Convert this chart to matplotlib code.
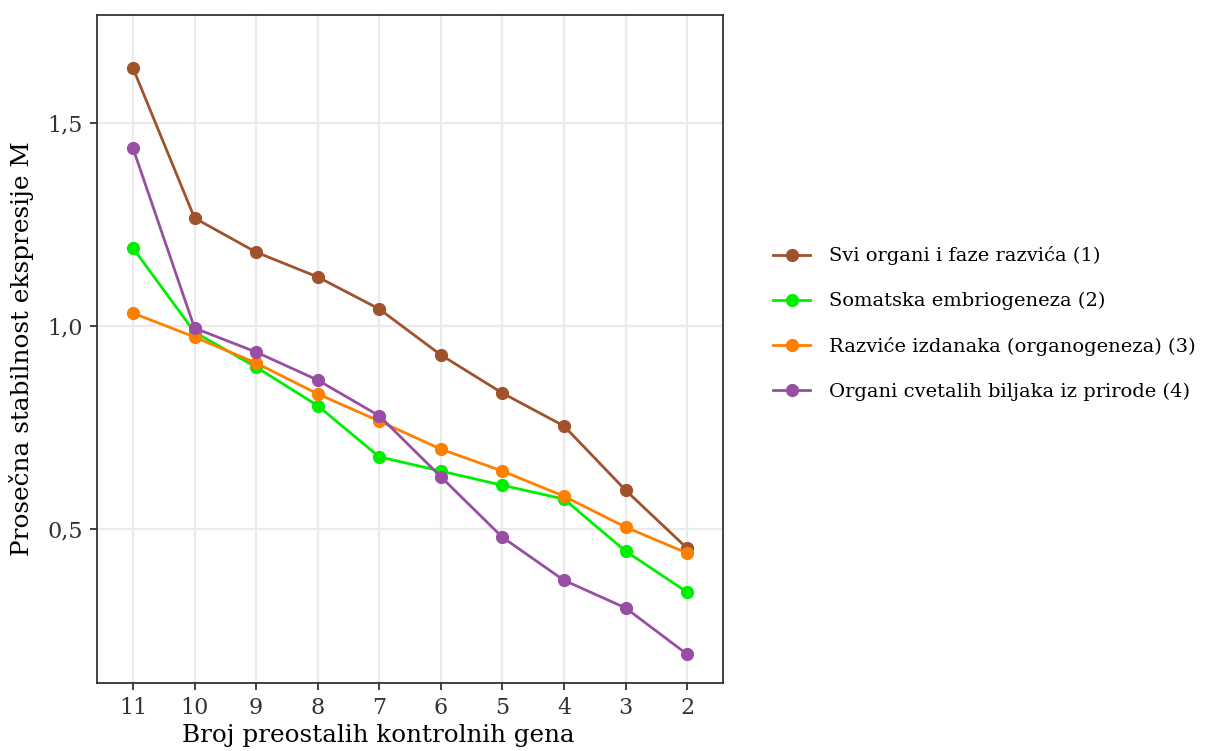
import matplotlib.pyplot as plt

broj_gena = [11, 10, 9, 8, 7, 6, 5, 4, 3, 2]

svi_organi = [1.635, 1.266, 1.182, 1.121, 1.042, 0.929, 0.835, 0.754, 0.596, 0.453]
somatska = [1.192, 0.985, 0.899, 0.804, 0.678, 0.643, 0.608, 0.574, 0.446, 0.345]
izdanci = [1.032, 0.973, 0.909, 0.833, 0.766, 0.697, 0.643, 0.581, 0.505, 0.441]
cvetale = [1.438, 0.995, 0.936, 0.867, 0.779, 0.629, 0.480, 0.374, 0.306, 0.192]

nazivi = ['Svi organi i faze razvića (1)', 'Somatska embriogeneza (2)',
          'Razviće izdanaka (organogeneza) (3)', 'Organi cvetalih biljaka iz prirode (4)']
boje = ['#A0522D', '#00EE00', '#FF7F00', '#984EA3']

plt.rcParams['font.family'] = ['DejaVu Serif']

fig = plt.figure(figsize=(12.11, 7.51), dpi=100)
ax = fig.add_axes([0.0801, 0.0905, 0.5170, 0.8895])

pozicije = list(range(len(broj_gena)))
for serija, naziv, boja in zip([svi_organi, somatska, izdanci, cvetale], nazivi, boje):
    ax.plot(pozicije, serija, color=boja, lw=2, marker='o', markersize=8.5, label=naziv, zorder=3)

ax.set_xlim(-0.585, len(broj_gena) - 1 + 0.585)
ax.set_ylim(0.121, 1.766)
ax.set_xticks(pozicije)
ax.set_xticklabels([str(b) for b in broj_gena])
ax.set_yticks([0.5, 1.0, 1.5])
ax.set_yticklabels(['0,5', '1,0', '1,5'])

ax.grid(True, color='#EBEBEB', lw=1.6, zorder=0)
ax.set_axisbelow(True)
for s in ax.spines.values():
    s.set_color('#333333')
    s.set_linewidth(1.3)
ax.tick_params(colors='#333333', labelcolor='#333333', labelsize=16, length=5, width=1.3, pad=5)

ax.set_xlabel('Broj preostalih kontrolnih gena', fontsize=17.7)
ax.xaxis.set_label_coords(0.449, -0.062)
ax.set_ylabel('Prosečna stabilnost ekspresije M', fontsize=17.8, labelpad=10)

leg = fig.legend(loc='center left', bbox_to_anchor=(0.632, 0.569), frameon=False,
                 borderaxespad=0, fontsize=14.0, handlelength=1.9,
                 labelspacing=1.37, handletextpad=0.98)

fig.savefig('out.png', dpi=100)
